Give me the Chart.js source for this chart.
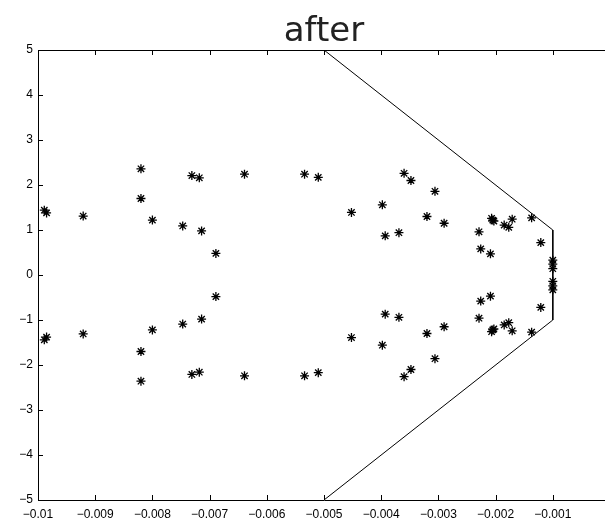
<!DOCTYPE html>
<html>
<head>
<meta charset="utf-8">
<script src="https://cdn.jsdelivr.net/npm/chart.js@4.4.1/dist/chart.umd.min.js"></script>
<style>
html,body{margin:0;padding:0;background:#fff;overflow:hidden;width:605px;height:518px;}
#wrap{width:620px;height:518px;position:relative;}
</style>
</head>
<body>
<div id="wrap"><canvas id="c"></canvas></div>
<script>
// ---- data ----
const titleText = "after";
const xTicks = [-0.01,-0.009,-0.008,-0.007,-0.006,-0.005,-0.004,-0.003,-0.002,-0.001,0];
const yTicks = [-5,-4,-3,-2,-1,0,1,2,3,4,5];

const boundaryX = [-0.005, -0.001, -0.001, -0.005];
const boundaryY = [5, 1, -1, -5];

const poleX = [-0.00989,-0.00985,-0.00921,-0.00820,-0.00820,-0.00800,-0.00747,-0.00731,-0.00718,-0.00714,
               -0.00689,-0.00639,-0.00534,-0.00510,-0.00452,-0.00398,-0.00393,-0.00369,-0.00360,-0.00348,
               -0.00320,-0.00306,-0.00290,-0.00229,-0.00226,-0.00209,-0.00207,-0.00205,-0.00203,-0.00185,
               -0.00177,-0.00171,-0.00137,-0.00121,-0.00100,-0.00100,-0.00100];
const poleYUpper = [1.44,1.38,1.31,2.36,1.70,1.22,1.09,2.21,2.16,0.98,
                    0.48,2.24,2.24,2.17,1.39,1.56,0.87,0.94,2.26,2.10,
                    1.30,1.86,1.15,0.96,0.58,0.47,1.26,1.22,1.20,1.11,
                    1.06,1.24,1.27,0.72,0.33,0.24,0.14];
const poleYLower = [-1.44,-1.38,-1.31,-2.36,-1.70,-1.22,-1.09,-2.21,-2.16,-0.98,
                    -0.48,-2.24,-2.24,-2.17,-1.39,-1.56,-0.87,-0.94,-2.26,-2.10,
                    -1.30,-1.86,-1.15,-0.96,-0.58,-0.47,-1.26,-1.22,-1.20,-1.11,
                    -1.06,-1.24,-1.27,-0.72,-0.33,-0.24,-0.14];

// ---- build ----
const boundary = boundaryX.map((x,i)=>({x:x,y:boundaryY[i]}));
const poles = poleX.map((x,i)=>({x:x,y:poleYUpper[i]})).concat(poleX.map((x,i)=>({x:x,y:poleYLower[i]})));

function fmt(v){
  const r = Math.round(v*1e6)/1e6;
  let s = String(Math.abs(r));
  return (r<0 ? '\u2212' : '') + s;
}

const frame = {
  id:'frame',
  afterDraw(chart){
    const {ctx, chartArea:a, scales} = chart;
    ctx.save();
    ctx.strokeStyle = '#000';
    ctx.lineWidth = 1;
    ctx.beginPath();
    ctx.rect(Math.round(a.left)+0.5, Math.round(a.top)+0.5, Math.round(a.right-a.left), Math.round(a.bottom-a.top));
    ctx.stroke();
    const tl = 5;
    ctx.beginPath();
    xTicks.forEach(v=>{
      const px = Math.round(scales.x.getPixelForValue(v))+0.5;
      ctx.moveTo(px, a.bottom); ctx.lineTo(px, a.bottom - tl);
      ctx.moveTo(px, a.top); ctx.lineTo(px, a.top + tl);
    });
    yTicks.forEach(v=>{
      const py = Math.round(scales.y.getPixelForValue(v))+0.5;
      ctx.moveTo(a.left, py); ctx.lineTo(a.left + tl, py);
      ctx.moveTo(a.right, py); ctx.lineTo(a.right - tl, py);
    });
    ctx.stroke();
    ctx.restore();
  }
};

new Chart(document.getElementById('c'), {
  type:'scatter',
  data:{
    datasets:[
      {data:boundary, showLine:true, borderColor:'#000', borderWidth:1, pointRadius:0, fill:false, tension:0, order:2},
      {data:poles, pointStyle:'star', pointRadius:4.5, borderColor:'#000', backgroundColor:'#000', pointBorderWidth:1.3, showLine:false, order:1}
    ]
  },
  plugins:[frame],
  options:{
    responsive:true,
    maintainAspectRatio:false,
    animation:false,
    events:[],
    layout:{padding:{left:0,right:10,top:0,bottom:0}},
    plugins:{
      legend:{display:false},
      tooltip:{enabled:false},
      title:{
        display:true, text:titleText, fullSize:false,
        color:'#222',
        font:{family:'"DejaVu Sans", sans-serif', size:34, weight:'normal', lineHeight:1.0},
        padding:{top:15,bottom:1}
      }
    },
    scales:{
      x:{
        type:'linear', min:-0.01, max:0,
        afterBuildTicks(s){ s.ticks = xTicks.map(v=>({value:v})); },
        afterFit(s){ s.height = 18; },
        grid:{display:false, drawTicks:false, tickLength:0}, border:{display:false},
        ticks:{color:'#000', padding:7, maxRotation:0, autoSkip:false,
          font:{family:'"Liberation Sans", Arial, sans-serif', size:12},
          callback:(v)=> v===0 ? '' : fmt(v)}
      },
      y:{
        type:'linear', min:-5, max:5,
        afterBuildTicks(s){ s.ticks = yTicks.map(v=>({value:v})); },
        afterFit(s){ s.width = 38; },
        grid:{display:false, drawTicks:false, tickLength:0}, border:{display:false},
        ticks:{color:'#000', padding:5, autoSkip:false,
          font:{family:'"Liberation Sans", Arial, sans-serif', size:12},
          callback:(v)=> fmt(v)}
      }
    }
  }
});
</script>
</body>
</html>
